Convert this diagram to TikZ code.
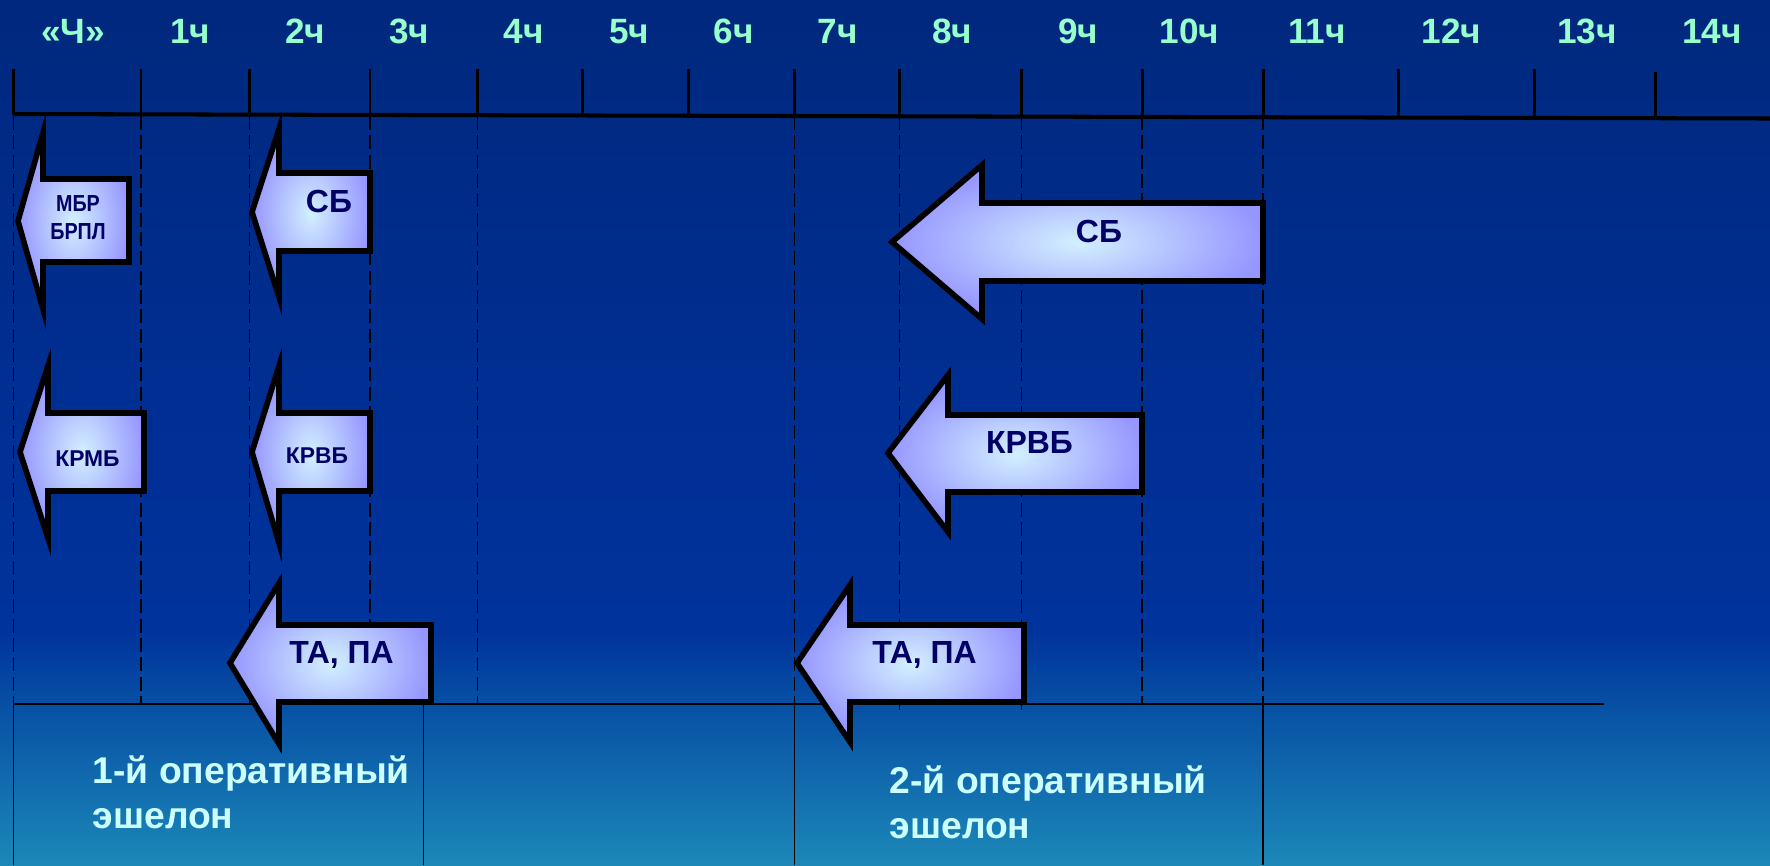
\documentclass[tikz,border=0pt]{standalone}
\usepackage{fontspec}
\setmainfont{Liberation Sans}
\newfontfamily\narrowsans{Liberation Sans}[FakeStretch=0.85]

\definecolor{bgtop}{RGB}{0,40,125}
\definecolor{bgmid}{RGB}{0,47,148}
\definecolor{bglow}{RGB}{0,51,156}
\definecolor{bgline}{RGB}{7,80,164}
\definecolor{bgbot}{RGB}{28,136,184}
\definecolor{hourmint}{RGB}{150,255,204}
\definecolor{echcyan}{RGB}{204,255,255}
\definecolor{navytext}{RGB}{0,0,102}
\definecolor{glowin}{RGB}{210,240,255}
\definecolor{glowout}{RGB}{150,150,255}

\pgfdeclareradialshading{arrowglow}{\pgfpoint{0bp}{0bp}}{color(0bp)=(glowin); color(25bp)=(glowout); color(50bp)=(glowout)}

\tikzset{
  hour/.style={font=\fontsize{10}{12}\selectfont\bfseries, text=hourmint, anchor=base, inner sep=0pt},
  gridline/.style={line width=0.5pt, dash pattern=on 4pt off 1.5pt},
  frameline/.style={line width=0.55pt},
  blockarrow/.style={shade, shading=arrowglow, draw=black, line width=1.6pt},
  bigtext/.style={font=\fontsize{9.1}{11}\selectfont\bfseries, text=navytext, anchor=base, inner sep=0pt},
  smalltext/.style={font=\fontsize{6.5}{8}\selectfont\bfseries, text=navytext, anchor=base, inner sep=0pt},
  echelon/.style={font=\fontsize{10.6}{12.8}\selectfont\bfseries, text=echcyan, align=left, anchor=base west, inner sep=0pt}
}

\begin{document}
\begin{tikzpicture}
  % background
  \shade[top color=bgtop, bottom color=bgmid] (0,0) rectangle (17.7,-4.21);
  \shade[top color=bgmid, bottom color=bglow] (0,-4.2) rectangle (17.7,-6.31);
  \shade[top color=bglow, bottom color=bgline] (0,-6.3) rectangle (17.7,-7.06);
  \shade[top color=bgline, bottom color=bgbot] (0,-7.05) rectangle (17.7,-8.65);
  \useasboundingbox (0,0) rectangle (17.7,-8.65);

  % hour grid
  \draw[gridline] (0.135,-1.16) -- (0.135,-7.04);
  \draw[gridline] (1.41,-1.16) -- (1.41,-7.04);
  \draw[gridline] (2.495,-1.16) -- (2.495,-7.04);
  \draw[gridline] (3.70,-1.16) -- (3.70,-7.04);
  \draw[gridline] (4.775,-1.16) -- (4.775,-7.04);
  \draw[gridline] (7.945,-1.16) -- (7.945,-7.04);
  \draw[gridline] (8.995,-1.16) -- (8.995,-7.10);
  \draw[gridline] (10.215,-1.16) -- (10.215,-7.13);
  \draw[gridline] (11.42,-1.16) -- (11.42,-7.04);
  \draw[gridline] (12.63,-1.16) -- (12.63,-7.04);

  % echelon frame
  \draw[frameline] (0.135,-7.04) -- (16.04,-7.04);
  \draw[frameline] (0.135,-7.04) -- (0.135,-8.65);
  \draw[frameline] (4.235,-7.04) -- (4.235,-8.65);
  \draw[frameline] (7.945,-7.04) -- (7.945,-8.65);
  \draw[frameline] (12.63,-7.04) -- (12.63,-8.65);

  % time axis
  \draw[line width=1.15pt] (0.135,-1.14) -- (17.7,-1.185);
  \draw[line width=0.85pt] (0.135,-0.69) -- (0.135,-1.15) (1.41,-0.69) -- (1.41,-1.15)
    (2.495,-0.69) -- (2.495,-1.15) (3.70,-0.69) -- (3.70,-1.15) (4.775,-0.69) -- (4.775,-1.15)
    (5.825,-0.69) -- (5.825,-1.15) (6.885,-0.69) -- (6.885,-1.155) (7.945,-0.69) -- (7.945,-1.16)
    (8.995,-0.69) -- (8.995,-1.16) (10.215,-0.69) -- (10.215,-1.16) (11.42,-0.69) -- (11.42,-1.165)
    (12.63,-0.69) -- (12.63,-1.165) (13.985,-0.69) -- (13.985,-1.17) (15.34,-0.69) -- (15.34,-1.175)
    (16.55,-0.72) -- (16.55,-1.175);

  % hour labels
  \node[hour] (h0) at (0.73,-0.43) {«Ч»};
  \node[hour] (h1) at (1.90,-0.43) {1ч};
  \node[hour] (h2) at (3.05,-0.43) {2ч};
  \node[hour] (h3) at (4.09,-0.43) {3ч};
  \node[hour] (h4) at (5.235,-0.43) {4ч};
  \node[hour] (h5) at (6.29,-0.43) {5ч};
  \node[hour] (h6) at (7.335,-0.43) {6ч};
  \node[hour] (h7) at (8.375,-0.43) {7ч};
  \node[hour] (h8) at (9.52,-0.43) {8ч};
  \node[hour] (h9) at (10.78,-0.43) {9ч};
  \node[hour] (h10) at (11.895,-0.43) {10ч};
  \node[hour] (h11) at (13.17,-0.43) {11ч};
  \node[hour] (h12) at (14.515,-0.43) {12ч};
  \node[hour] (h13) at (15.87,-0.43) {13ч};
  \node[hour] (h14) at (17.12,-0.43) {14ч};

  % 1st echelon arrows
  \draw[blockarrow] (0.18,-2.21) -- (0.43,-1.33) -- (0.43,-1.79) -- (1.29,-1.79)
    -- (1.29,-2.62) -- (0.43,-2.62) -- (0.43,-3.09) -- cycle;
  \node[smalltext, anchor=center, align=center, font=\narrowsans\fontsize{6.6}{8}\selectfont\bfseries] (mbr) at (0.78,-2.18) {МБР\\БРПЛ};

  \draw[blockarrow] (2.52,-2.12) -- (2.79,-1.29) -- (2.79,-1.73) -- (3.70,-1.73)
    -- (3.70,-2.51) -- (2.79,-2.51) -- (2.79,-2.97) -- cycle;
  \node[bigtext] (sbA) at (3.29,-2.12) {СБ};

  \draw[blockarrow] (0.20,-4.52) -- (0.48,-3.66) -- (0.48,-4.13) -- (1.44,-4.13)
    -- (1.44,-4.91) -- (0.48,-4.91) -- (0.48,-5.38) -- cycle;
  \node[smalltext] (krmb) at (0.875,-4.66) {КРМБ};

  \draw[blockarrow] (2.52,-4.52) -- (2.79,-3.66) -- (2.79,-4.13) -- (3.70,-4.13)
    -- (3.70,-4.91) -- (2.79,-4.91) -- (2.79,-5.43) -- cycle;
  \node[smalltext] (krvbA) at (3.17,-4.63) {КРВБ};

  \draw[blockarrow] (2.30,-6.63) -- (2.79,-5.83) -- (2.79,-6.25) -- (4.31,-6.25)
    -- (4.31,-7.02) -- (2.79,-7.02) -- (2.79,-7.44) -- cycle;
  \node[bigtext] (tapaA) at (3.415,-6.63) {ТА, ПА};

  % 2nd echelon arrows
  \draw[blockarrow] (8.92,-2.42) -- (9.82,-1.65) -- (9.82,-2.03) -- (12.63,-2.03)
    -- (12.63,-2.81) -- (9.82,-2.81) -- (9.82,-3.19) -- cycle;
  \node[bigtext] (sbB) at (10.99,-2.42) {СБ};

  \draw[blockarrow] (8.88,-4.53) -- (9.48,-3.75) -- (9.48,-4.15) -- (11.42,-4.15)
    -- (11.42,-4.92) -- (9.48,-4.92) -- (9.48,-5.32) -- cycle;
  \node[bigtext] (krvbB) at (10.295,-4.53) {КРВБ};

  \draw[blockarrow] (7.97,-6.63) -- (8.50,-5.85) -- (8.50,-6.25) -- (10.24,-6.25)
    -- (10.24,-7.02) -- (8.50,-7.02) -- (8.50,-7.42) -- cycle;
  \node[bigtext] (tapaB) at (9.245,-6.63) {ТА, ПА};

  % echelons
  \node[echelon] (esh1) at (0.92,-8.28) {1-й оперативный\\эшелон};
  \node[echelon] (esh2) at (8.89,-8.38) {2-й оперативный\\эшелон};
\end{tikzpicture}
\end{document}
